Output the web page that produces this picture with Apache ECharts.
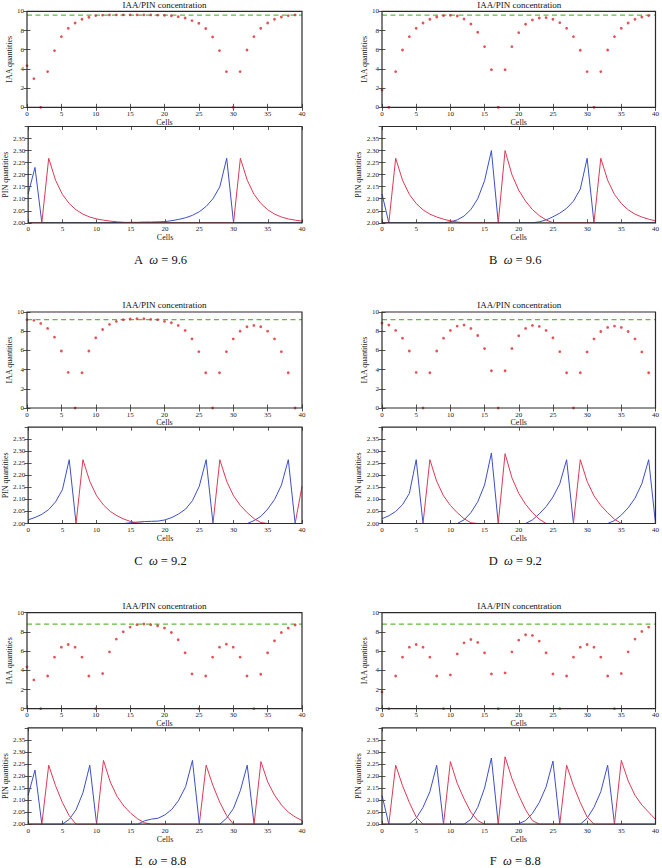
<!DOCTYPE html>
<html>
<head>
<meta charset="utf-8">
<script src="https://cdn.jsdelivr.net/npm/echarts@6/dist/echarts.min.js"></script>
<style>
html,body{margin:0;padding:0;background:#fff;}
#chart{width:662px;height:868px;}
</style>
</head>
<body>
<div id="chart"></div>
<script>
// ---------- data ----------
const cells = [0,1,2,3,4,5,6,7,8,9,10,11,12,13,14,15,16,17,18,19,20,21,22,23,24,25,26,27,28,29,30,31,32,33,34,35,36,37,38,39];
const pinCells = [0,1,2,3,4,5,6,7,8,9,10,11,12,13,14,15,16,17,18,19,20,21,22,23,24,25,26,27,28,29,30,31,32,33,34,35,36,37,38,39,40];
const xTicks = [0,5,10,15,20,25,30,35,40];
const iaaTicks = [0,2,4,6,8,10];
const pinTicks = [2.00,2.05,2.10,2.15,2.20,2.25,2.30,2.35];

const panelLetters = ['A','B','C','D','E','F'];
const omegas = [9.6, 9.6, 9.2, 9.2, 8.8, 8.8];
const titleText = 'IAA/PIN concentration';

const iaaA = [4.34,2.99,0,3.72,5.9,7.36,8.23,8.78,9.17,9.38,9.55,9.6,9.62,9.63,9.63,9.63,9.63,9.63,9.62,9.6,9.58,9.54,9.44,9.3,9.03,8.75,8.2,7.33,5.9,3.72,0,3.72,5.97,7.36,8.23,8.78,9.17,9.41,9.55,9.62];
const iaaB = [1.8,0,3.72,5.97,7.36,8.23,8.78,9.17,9.41,9.55,9.58,9.51,9.2,8.68,7.81,6.32,3.92,0,3.92,6.32,7.78,8.65,9.1,9.3,9.34,9.17,8.82,8.23,7.36,5.94,3.72,0,3.72,5.97,7.36,8.23,8.78,9.17,9.41,9.55];
const iaaC = [9.2,9.13,8.81,8.29,7.38,5.94,3.71,0,3.67,5.94,7.31,8.18,8.71,9.02,9.2,9.27,9.3,9.3,9.23,9.2,9.02,8.88,8.6,8.08,7.2,5.87,3.67,0,3.67,5.87,7.2,8.0,8.46,8.6,8.46,8.0,7.2,5.87,3.67,0];
const iaaD = [8.85,8.64,8.08,7.27,5.94,3.71,0,3.67,5.94,7.27,8.08,8.53,8.64,8.29,7.55,6.19,3.88,0,3.88,6.19,7.52,8.29,8.6,8.5,8.08,7.31,5.87,3.67,0,3.67,5.84,7.2,7.97,8.39,8.53,8.39,7.97,7.2,5.84,3.67];
const iaaE = [4.36,3.0,0,3.41,5.37,6.41,6.69,6.41,5.37,3.41,0,3.66,5.92,7.25,8.01,8.5,8.75,8.82,8.75,8.64,8.4,7.94,7.18,5.82,3.62,0,3.41,5.37,6.41,6.72,6.41,5.37,3.41,0,3.59,5.82,7.07,7.94,8.4,8.71];
const iaaF = [1.74,0,3.41,5.37,6.41,6.69,6.41,5.37,3.41,0,3.52,5.71,6.86,7.21,6.9,5.82,3.62,0,3.73,5.92,7.14,7.7,7.63,7.04,5.82,3.62,0,3.41,5.37,6.41,6.69,6.41,5.37,3.41,0,3.66,5.92,7.25,8.05,8.5];

const pinBlueA = [2.12,2.23,2.0,2.0,2.0,2.0,2.0,2.0,2.0,2.0,2.0,2.0,2.0,2.001,2.001,2.002,2.002,2.003,2.003,2.004,2.005,2.009,2.014,2.021,2.031,2.046,2.068,2.10,2.15,2.268,2.0,2.0,2.0,2.0,2.0,2.0,2.0,2.0,2.0,2.0,2.0];
const pinRedA = [2.0,2.0,2.0,2.268,2.177,2.118,2.08,2.054,2.036,2.024,2.016,2.011,2.007,2.004,2.002,2.001,2.0,2.0,2.0,2.0,2.0,2.0,2.0,2.0,2.0,2.0,2.0,2.0,2.0,2.0,2.0,2.268,2.177,2.118,2.08,2.054,2.036,2.024,2.016,2.011,2.007];
const pinBlueB = [2.12,2.0,2.0,2.0,2.0,2.0,2.0,2.0,2.0,2.0,2.004,2.012,2.028,2.055,2.10,2.175,2.30,2.0,2.0,2.0,2.0,2.0,2.0,2.004,2.012,2.025,2.04,2.06,2.09,2.14,2.268,2.0,2.0,2.0,2.0,2.0,2.0,2.0,2.0,2.0,2.0];
const pinRedB = [2.0,2.0,2.268,2.177,2.118,2.08,2.054,2.036,2.024,2.015,2.008,2.003,2.0,2.0,2.0,2.0,2.0,2.0,2.30,2.20,2.135,2.09,2.055,2.03,2.012,2.0,2.0,2.0,2.0,2.0,2.0,2.0,2.268,2.177,2.118,2.08,2.054,2.036,2.024,2.015,2.008];
const pinBlueC = [2.015,2.025,2.038,2.058,2.09,2.14,2.265,2.0,2.0,2.0,2.0,2.0,2.0,2.0,2.0,2.003,2.006,2.008,2.009,2.01,2.015,2.025,2.04,2.06,2.095,2.155,2.265,2.0,2.0,2.0,2.0,2.0,2.0,2.012,2.03,2.06,2.1,2.16,2.265,2.0,2.0];
const pinRedC = [2.0,2.0,2.0,2.0,2.0,2.0,2.0,2.0,2.265,2.175,2.115,2.077,2.05,2.032,2.018,2.008,2.002,2.0,2.0,2.0,2.0,2.0,2.0,2.0,2.0,2.0,2.0,2.0,2.265,2.175,2.115,2.075,2.045,2.02,2.004,2.0,2.0,2.0,2.0,2.0,2.155];
const pinBlueD = [2.02,2.032,2.05,2.078,2.125,2.265,2.0,2.0,2.0,2.0,2.0,2.0,2.015,2.045,2.09,2.16,2.293,2.0,2.0,2.0,2.0,2.0,2.015,2.04,2.07,2.11,2.165,2.265,2.0,2.0,2.0,2.0,2.0,2.0,2.012,2.035,2.065,2.105,2.165,2.265,2.0];
const pinRedD = [2.0,2.0,2.0,2.0,2.0,2.0,2.0,2.265,2.175,2.115,2.075,2.045,2.02,2.003,2.0,2.0,2.0,2.0,2.29,2.19,2.125,2.08,2.045,2.018,2.0,2.0,2.0,2.0,2.0,2.265,2.175,2.115,2.075,2.045,2.018,2.0,2.0,2.0,2.0,2.0,2.0];
const pinBlueE = [2.12,2.225,2.0,2.0,2.0,2.0,2.02,2.06,2.13,2.245,2.0,2.0,2.0,2.0,2.0,2.0,2.0,2.014,2.021,2.025,2.039,2.062,2.10,2.156,2.265,2.0,2.0,2.0,2.0,2.025,2.066,2.14,2.245,2.0,2.0,2.0,2.0,2.0,2.0,2.0,2.0];
const pinRedE = [2.0,2.0,2.0,2.245,2.16,2.09,2.035,2.0,2.0,2.0,2.0,2.265,2.175,2.115,2.075,2.045,2.022,2.006,2.0,2.0,2.0,2.0,2.0,2.0,2.0,2.0,2.245,2.16,2.09,2.035,2.0,2.0,2.0,2.0,2.26,2.175,2.12,2.08,2.05,2.03,2.015];
const pinBlueF = [2.12,2.0,2.0,2.0,2.0,2.025,2.07,2.135,2.245,2.0,2.0,2.0,2.0,2.02,2.07,2.15,2.275,2.0,2.0,2.0,2.002,2.015,2.045,2.09,2.155,2.262,2.0,2.0,2.0,2.0,2.025,2.07,2.135,2.245,2.0,2.0,2.0,2.0,2.0,2.0,2.0];
const pinRedF = [2.0,2.0,2.245,2.16,2.09,2.03,2.0,2.0,2.0,2.0,2.26,2.17,2.105,2.05,2.015,2.0,2.0,2.0,2.28,2.19,2.12,2.06,2.015,2.0,2.0,2.0,2.0,2.245,2.16,2.09,2.03,2.0,2.0,2.0,2.0,2.265,2.18,2.12,2.08,2.05,2.02];

const iaaSets = [iaaA, iaaB, iaaC, iaaD, iaaE, iaaF];
const blueSets = [pinBlueA, pinBlueB, pinBlueC, pinBlueD, pinBlueE, pinBlueF];
const redSets = [pinRedA, pinRedB, pinRedC, pinRedD, pinRedE, pinRedF];

// ---------- layout ----------
const FONT = '"Liberation Serif", "DejaVu Serif", serif';
const colLeft = [27, 382];
const colWidth = [275, 274.5];
const rowTop = [0, 300.7, 601.4];
const INK = '#2b2b2b';

const grids = [], xAxes = [], yAxes = [], series = [], titles = [];

function axisCommon(show) {
  return {
    axisLine: { show: false },
    axisTick: { show: true, inside: true, length: 3.5, lineStyle: { color: INK, width: 0.8 } },
    splitLine: { show: false },
    axisLabel: { show: show, fontSize: 7, color: '#222', fontFamily: FONT, margin: 3 }
  };
}

function addGrid(left, top, width, height, yMin, yMax, yInt, yName, yNameGap, yFmt) {
  const g = grids.length;
  grids.push({ left, top, width, height, show: true, z: 10, borderColor: INK, borderWidth: 1.2, backgroundColor: 'transparent', containLabel: false });
  xAxes.push(Object.assign(axisCommon(true), {
    type: 'value', gridIndex: g, min: xTicks[0], max: xTicks[xTicks.length - 1], interval: xTicks[1] - xTicks[0], position: 'bottom',
    name: 'Cells', nameLocation: 'middle', nameGap: 10.5,
    nameTextStyle: { fontSize: 8, fontFamily: FONT, color: '#222' }
  }));
  xAxes.push(Object.assign(axisCommon(false), {
    type: 'value', gridIndex: g, min: xTicks[0], max: xTicks[xTicks.length - 1], interval: xTicks[1] - xTicks[0], position: 'top'
  }));
  const lab = axisCommon(true).axisLabel;
  if (yFmt) { lab.formatter = yFmt; lab.showMaxLabel = false; }
  yAxes.push(Object.assign(axisCommon(true), {
    type: 'value', gridIndex: g, min: yMin, max: yMax, interval: yInt, position: 'left',
    axisLabel: lab,
    name: yName, nameLocation: 'middle', nameGap: yNameGap, nameRotate: 90,
    nameTextStyle: { fontSize: 8, fontFamily: FONT, color: '#222' }
  }));
  yAxes.push(Object.assign(axisCommon(false), {
    type: 'value', gridIndex: g, min: yMin, max: yMax, interval: yInt, position: 'right'
  }));
  return g;
}

for (let p = 0; p < 6; p++) {
  const col = p % 2, row = Math.floor(p / 2);
  const oy = rowTop[row];
  const L = colLeft[col], W = colWidth[col];
  const gTop = addGrid(L, oy + 11.3, W, 96, iaaTicks[0], iaaTicks[iaaTicks.length - 1], iaaTicks[1] - iaaTicks[0], 'IAA quantities', 10, null);
  const gBot = addGrid(L, oy + 126.5, W, 96.3, pinTicks[0], 2.4, 0.05, 'PIN quantities', 17.5, v => v.toFixed(2));

  // omega reference line (dashed green)
  series.push({
    type: 'line', xAxisIndex: gTop * 2, yAxisIndex: gTop * 2,
    data: [[xTicks[0], omegas[p]], [xTicks[xTicks.length - 1], omegas[p]]],
    showSymbol: false, symbol: 'none', silent: true, z: 2,
    lineStyle: { color: '#5dbd3e', type: [5, 3.5], width: 1.2 }
  });
  const iaa = iaaSets[p];
  series.push({
    type: 'scatter', xAxisIndex: gTop * 2, yAxisIndex: gTop * 2,
    data: cells.map((c, i) => [c, iaa[i]]),
    symbol: 'circle', symbolSize: 2.8,
    itemStyle: { color: '#d92b2f' },
    z: 3
  });
  const blue = blueSets[p], red = redSets[p];
  series.push({
    type: 'line', xAxisIndex: gBot * 2, yAxisIndex: gBot * 2,
    data: pinCells.map((c, i) => [c, blue[i]]),
    showSymbol: false, symbol: 'none',
    lineStyle: { color: '#3d4fc6', width: 1 }
  });
  series.push({
    type: 'line', xAxisIndex: gBot * 2, yAxisIndex: gBot * 2,
    data: pinCells.map((c, i) => [c, red[i]]),
    showSymbol: false, symbol: 'none',
    lineStyle: { color: '#dc3a55', width: 1 }
  });

  const cx = L + W / 2;
  titles.push({
    text: titleText, left: cx, top: oy - 0.5, textAlign: 'center', padding: 0,
    textStyle: { fontSize: 9, fontWeight: 'normal', fontFamily: FONT, color: '#111', lineHeight: 10 }
  });
  titles.push({
    text: '{l|' + panelLetters[p] + '}  {w|ω} {l|= ' + omegas[p].toFixed(1) + '}',
    left: cx - 4, top: oy + 254, textAlign: 'center', padding: 0,
    textStyle: {
      fontSize: 12.5, fontWeight: 'normal', fontFamily: FONT, color: '#111', lineHeight: 12,
      rich: {
        l: { fontSize: 12.5, fontFamily: FONT, color: '#111', lineHeight: 12 },
        w: { fontSize: 12.5, fontFamily: FONT, fontStyle: 'italic', color: '#111', lineHeight: 12 }
      }
    }
  });
}

const chart = echarts.init(document.getElementById('chart'), null, { renderer: 'svg', width: 662, height: 868 });
chart.setOption({
  animation: false,
  backgroundColor: '#fff',
  title: titles,
  grid: grids,
  xAxis: xAxes,
  yAxis: yAxes,
  series: series
});
</script>
</body>
</html>
